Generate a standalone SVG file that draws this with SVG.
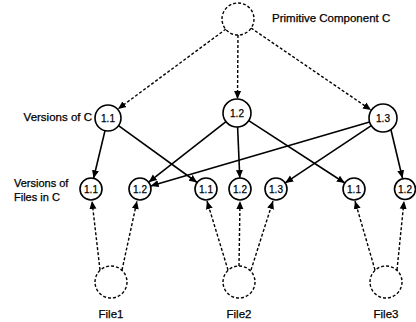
<svg xmlns="http://www.w3.org/2000/svg" width="416" height="322" viewBox="0 0 416 322">
<style>
text{font-family:"Liberation Sans",Arial,sans-serif;fill:#000;stroke:#000;stroke-width:0.25}
.lbl{font-size:11.5px}
.lbl2{font-size:11px}
.num{font-size:10px;text-anchor:middle}
.solidc{fill:#fff;stroke:#000;stroke-width:1.6}
.dashc{fill:#fff;stroke:#000;stroke-width:1.4;stroke-dasharray:3 2}
.sl{stroke:#000;stroke-width:1.6;fill:none}
.dl{stroke:#000;stroke-width:1.4;fill:none;stroke-dasharray:3 2}
</style>
<defs>
<marker id="ah" markerUnits="userSpaceOnUse" markerWidth="9" markerHeight="8" refX="8" refY="4" orient="auto">
<path d="M0,0.5 L8,4 L0,7.5 Z" fill="#000"/>
</marker>
</defs>
<g id="connectors">
<line class="dl" x1="226" y1="29" x2="118" y2="109" marker-end="url(#ah)"/>
<line class="dl" x1="238" y1="35" x2="237.5" y2="99" marker-end="url(#ah)"/>
<line class="dl" x1="251" y1="28" x2="371" y2="110" marker-end="url(#ah)"/>
<line class="sl" x1="105" y1="130.6" x2="93.6" y2="178.3" marker-end="url(#ah)"/>
<line class="sl" x1="118.5" y1="125.6" x2="197.1" y2="182.5" marker-end="url(#ah)"/>
<line class="sl" x1="226" y1="121.6" x2="148.7" y2="182.2" marker-end="url(#ah)"/>
<line class="sl" x1="237.6" y1="127" x2="239.8" y2="178" marker-end="url(#ah)"/>
<line class="sl" x1="248.7" y1="120.6" x2="344.8" y2="183" marker-end="url(#ah)"/>
<line class="sl" x1="369.6" y1="121.9" x2="150.6" y2="185.9" marker-end="url(#ah)"/>
<line class="sl" x1="371.3" y1="125.7" x2="285.2" y2="182.9" marker-end="url(#ah)"/>
<line class="sl" x1="391" y1="130" x2="402.5" y2="178.3" marker-end="url(#ah)"/>
<line class="dl" x1="100" y1="270" x2="92" y2="201" marker-end="url(#ah)"/>
<line class="dl" x1="122" y1="270" x2="137" y2="201" marker-end="url(#ah)"/>
<line class="dl" x1="228" y1="270" x2="207" y2="201" marker-end="url(#ah)"/>
<line class="dl" x1="239" y1="266" x2="240" y2="201" marker-end="url(#ah)"/>
<line class="dl" x1="251" y1="270" x2="273" y2="201" marker-end="url(#ah)"/>
<line class="dl" x1="375" y1="270" x2="355" y2="201" marker-end="url(#ah)"/>
<line class="dl" x1="397" y1="270" x2="404" y2="201" marker-end="url(#ah)"/>
</g>
<g id="primitive">
<circle class="dashc" cx="238" cy="19" r="16"/>
<text class="lbl" x="272" y="22">Primitive Component C</text>
</g>
<text id="versionsC" class="lbl" x="92" y="121" text-anchor="end">Versions of C</text>
<text id="versionsF" class="lbl2" x="14" y="187"><tspan x="14" y="187">Versions of</tspan><tspan x="14" y="201">Files in C</tspan></text>
<g id="c11"><circle class="solidc" cx="108" cy="118" r="13"/><text class="num" x="108" y="121.5">1.1</text></g>
<g id="c12"><circle class="solidc" cx="237" cy="113" r="14"/><text class="num" x="237" y="116.5">1.2</text></g>
<g id="c13"><circle class="solidc" cx="383" cy="118" r="14"/><text class="num" x="383" y="121.5">1.3</text></g>
<g id="f1"><circle class="solidc" cx="91" cy="189" r="11"/><text class="num" x="91" y="192.5">1.1</text></g>
<g id="f2"><circle class="solidc" cx="140" cy="189" r="11"/><text class="num" x="140" y="192.5">1.2</text></g>
<g id="f3"><circle class="solidc" cx="206" cy="189" r="11"/><text class="num" x="206" y="192.5">1.1</text></g>
<g id="f4"><circle class="solidc" cx="240" cy="189" r="11"/><text class="num" x="240" y="192.5">1.2</text></g>
<g id="f5"><circle class="solidc" cx="276" cy="189" r="11"/><text class="num" x="276" y="192.5">1.3</text></g>
<g id="f6"><circle class="solidc" cx="354" cy="189" r="11"/><text class="num" x="354" y="192.5">1.1</text></g>
<g id="f7"><circle class="solidc" cx="405" cy="189" r="10.5"/><text class="num" x="405" y="192.5">1.2</text></g>
<g id="file1"><circle class="dashc" cx="111" cy="282" r="16"/><text class="lbl" x="111" y="318" text-anchor="middle">File1</text></g>
<g id="file2"><circle class="dashc" cx="239" cy="282" r="16"/><text class="lbl" x="239" y="318" text-anchor="middle">File2</text></g>
<g id="file3"><circle class="dashc" cx="386" cy="282" r="16"/><text class="lbl" x="386" y="318" text-anchor="middle">File3</text></g>
</svg>
